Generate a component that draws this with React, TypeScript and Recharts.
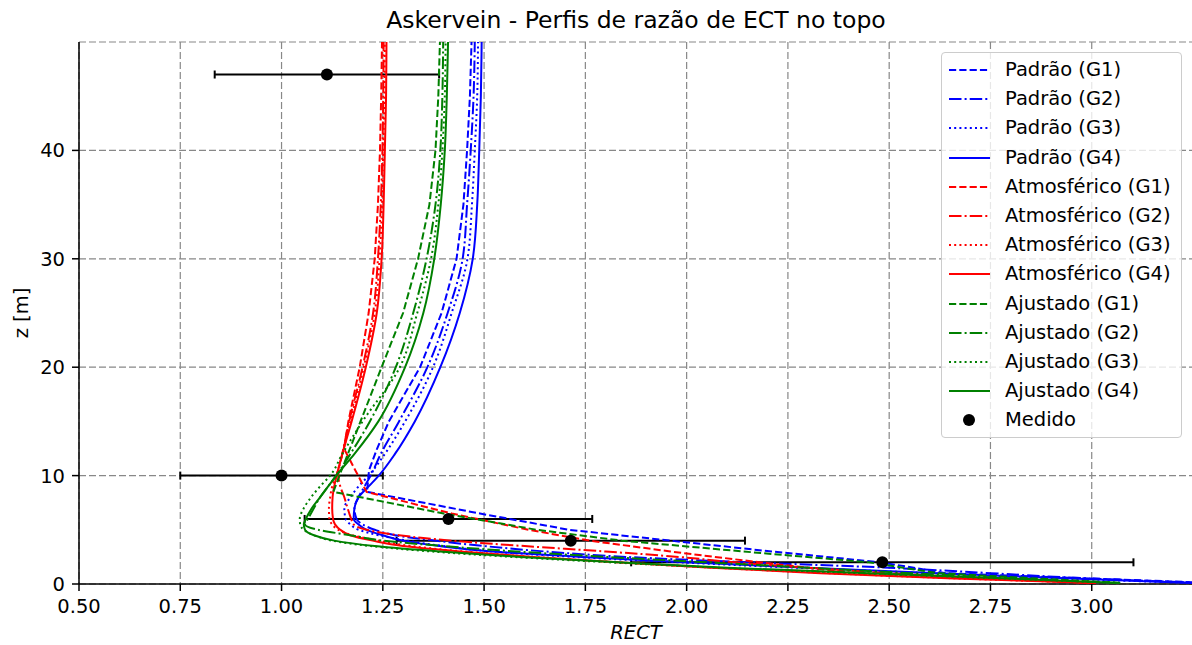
import React from 'react';
import { ScatterChart, Scatter, XAxis, YAxis, CartesianGrid, ErrorBar } from 'recharts';

const FONT = '"DejaVu Sans", Verdana, sans-serif';

// profile heights [m]: coarse grid (G1) and the finer grids (G2-G4)
const Z_G1 = [0.1, 1, 2, 3, 4, 5, 6.5, 8.5, 10.5, 12.5, 15, 20, 25, 30, 35, 40, 45, 50];
const Z_FINE = [0.1, 0.5, 1, 1.5, 2, 2.5, 3, 3.5, 4, 4.5, 5, 5.5, 6, 7, 8, 9, 10, 12, 15, 20, 25, 30, 35, 40, 45, 50];

// RECT along each profile
const PADRAO_G1 = [3.3, 2.64, 2.48, 2.21, 1.96, 1.71, 1.49, 1.211, 1.216, 1.236, 1.265, 1.342, 1.395, 1.432, 1.449, 1.458, 1.465, 1.469];
const PADRAO_G2 = [3.28, 3.0, 2.75, 2.5, 2.15, 1.85, 1.65, 1.5, 1.38, 1.28, 1.23, 1.2, 1.185, 1.18, 1.19, 1.205, 1.22, 1.245, 1.29, 1.36, 1.41, 1.447, 1.458, 1.467, 1.474, 1.477];
const PADRAO_G3 = [3.25, 2.93, 2.6, 2.27, 1.98, 1.72, 1.52, 1.4, 1.31, 1.24, 1.19, 1.17, 1.158, 1.155, 1.17, 1.19, 1.215, 1.255, 1.305, 1.374, 1.42, 1.459, 1.47, 1.477, 1.483, 1.485];
const PADRAO_G4 = [3.25, 2.95, 2.62, 2.3, 2.0, 1.74, 1.52, 1.39, 1.3, 1.25, 1.21, 1.19, 1.178, 1.18, 1.19, 1.215, 1.24, 1.28, 1.329, 1.392, 1.44, 1.472, 1.483, 1.488, 1.492, 1.494];

const ATMOS_G1 = [3.0, 2.42, 2.18, 1.96, 1.76, 1.61, 1.42, 1.21, 1.182, 1.154, 1.165, 1.193, 1.215, 1.23, 1.238, 1.243, 1.246, 1.248];
const ATMOS_G2 = [3.0, 2.75, 2.5, 2.3, 2.12, 1.98, 1.8, 1.6, 1.42, 1.29, 1.21, 1.178, 1.172, 1.163, 1.155, 1.145, 1.14, 1.15, 1.167, 1.2, 1.226, 1.238, 1.245, 1.249, 1.251, 1.252];
const ATMOS_G3 = [3.01, 2.68, 2.35, 2.07, 1.83, 1.62, 1.45, 1.32, 1.24, 1.175, 1.14, 1.125, 1.118, 1.117, 1.12, 1.125, 1.135, 1.15, 1.17, 1.203, 1.23, 1.242, 1.248, 1.251, 1.254, 1.255];
const ATMOS_G4 = [3.01, 2.66, 2.33, 2.06, 1.83, 1.62, 1.44, 1.3, 1.225, 1.169, 1.145, 1.132, 1.127, 1.125, 1.126, 1.13, 1.136, 1.15, 1.173, 1.208, 1.235, 1.247, 1.252, 1.255, 1.258, 1.259];

const AJUST_G1 = [3.07, 2.62, 2.45, 2.14, 1.84, 1.63, 1.4, 1.128, 1.148, 1.169, 1.195, 1.247, 1.3, 1.337, 1.365, 1.38, 1.387, 1.391];
const AJUST_G2 = [3.07, 2.82, 2.55, 2.3, 2.05, 1.8, 1.58, 1.4, 1.25, 1.17, 1.09, 1.058, 1.065, 1.08, 1.095, 1.115, 1.135, 1.17, 1.218, 1.282, 1.325, 1.358, 1.38, 1.392, 1.397, 1.399];
const AJUST_G3 = [3.07, 2.78, 2.43, 2.08, 1.81, 1.57, 1.37, 1.22, 1.125, 1.08, 1.055, 1.046, 1.045, 1.055, 1.073, 1.095, 1.12, 1.15, 1.2, 1.292, 1.335, 1.369, 1.387, 1.397, 1.403, 1.405];
const AJUST_G4 = [3.07, 2.8, 2.45, 2.1, 1.83, 1.59, 1.39, 1.23, 1.13, 1.08, 1.058, 1.055, 1.06, 1.075, 1.095, 1.115, 1.135, 1.18, 1.239, 1.305, 1.35, 1.377, 1.393, 1.403, 1.408, 1.411];

// measurements with their uncertainty on RECT
const MEDIDO_Z = [2, 4, 6, 10, 47];
const MEDIDO_X = [2.483, 1.714, 1.412, 1.0, 1.112];
const MEDIDO_ERR = [0.62, 0.43, 0.355, 0.25, 0.277];

const X_TICKS = [0.5, 0.75, 1.0, 1.25, 1.5, 1.75, 2.0, 2.25, 2.5, 2.75, 3.0];
const Y_TICKS = [0, 10, 20, 30, 40];

const DASHED = '7.2 3.1';
const DASHDOT = '12.5 3.1 2 3.1';
const DOTTED = '2 3.2';

const BLUE = '#0000ff';
const RED = '#ff0000';
const GREEN = '#008000';

const toPoints = (zs: number[], xs: number[]) => zs.map((z, i) => ({ x: xs[i], z }));

const SERIES = [
  { name: 'Padrão (G1)', color: BLUE, dash: DASHED, pts: toPoints(Z_G1, PADRAO_G1), joint: 'linear' },
  { name: 'Padrão (G2)', color: BLUE, dash: DASHDOT, pts: toPoints(Z_FINE, PADRAO_G2), joint: 'monotoneY' },
  { name: 'Padrão (G3)', color: BLUE, dash: DOTTED, pts: toPoints(Z_FINE, PADRAO_G3), joint: 'monotoneY' },
  { name: 'Padrão (G4)', color: BLUE, dash: undefined, pts: toPoints(Z_FINE, PADRAO_G4), joint: 'monotoneY' },
  { name: 'Atmosférico (G1)', color: RED, dash: DASHED, pts: toPoints(Z_G1, ATMOS_G1), joint: 'linear' },
  { name: 'Atmosférico (G2)', color: RED, dash: DASHDOT, pts: toPoints(Z_FINE, ATMOS_G2), joint: 'monotoneY' },
  { name: 'Atmosférico (G3)', color: RED, dash: DOTTED, pts: toPoints(Z_FINE, ATMOS_G3), joint: 'monotoneY' },
  { name: 'Atmosférico (G4)', color: RED, dash: undefined, pts: toPoints(Z_FINE, ATMOS_G4), joint: 'monotoneY' },
  { name: 'Ajustado (G1)', color: GREEN, dash: DASHED, pts: toPoints(Z_G1, AJUST_G1), joint: 'linear' },
  { name: 'Ajustado (G2)', color: GREEN, dash: DASHDOT, pts: toPoints(Z_FINE, AJUST_G2), joint: 'monotoneY' },
  { name: 'Ajustado (G3)', color: GREEN, dash: DOTTED, pts: toPoints(Z_FINE, AJUST_G3), joint: 'monotoneY' },
  { name: 'Ajustado (G4)', color: GREEN, dash: undefined, pts: toPoints(Z_FINE, AJUST_G4), joint: 'monotoneY' },
];

const medido = MEDIDO_Z.map((z, i) => ({ x: MEDIDO_X[i], z, err: MEDIDO_ERR[i] }));

const noDot = () => <g />;
const blackDot = (p: any) => <circle cx={p.cx} cy={p.cy} r={6} fill="#000" />;

const tickStyle = { fill: '#000', fontSize: 19.5, fontFamily: FONT };

const Legend = () => (
  <div
    style={{
      position: 'absolute',
      left: 941,
      top: 52,
      width: 241,
      height: 386,
      boxSizing: 'border-box',
      border: '1px solid #cccccc',
      borderRadius: 4,
      background: 'rgba(255,255,255,0.8)',
      fontFamily: FONT,
      fontSize: 19.5,
    }}
  >
    {[...SERIES.map((s) => ({ name: s.name, color: s.color, dash: s.dash, dot: false })), { name: 'Medido', color: '#000', dash: undefined, dot: true }].map(
      (row, i) => {
        const cy = 17 + i * 29.2;
        return (
          <div key={row.name} style={{ position: 'absolute', left: 0, top: cy - 15, height: 30, width: 240 }}>
            <svg width={50} height={30} style={{ position: 'absolute', left: 6, top: 0 }}>
              {row.dot ? (
                <circle cx={21} cy={15} r={6} fill="#000" />
              ) : (
                <line x1={1} y1={15} x2={42} y2={15} stroke={row.color} strokeWidth={2} strokeDasharray={row.dash} />
              )}
            </svg>
            <span style={{ position: 'absolute', left: 63, top: 15, transform: 'translateY(-50%)', lineHeight: 1, whiteSpace: 'nowrap' }}>
              {row.name}
            </span>
          </div>
        );
      }
    )}
  </div>
);

export default function App() {
  return (
    <div style={{ position: 'absolute', left: 0, top: 0, width: 1192, height: 645, overflow: 'hidden', background: '#fff' }}>
      <ScatterChart width={1200} height={645} margin={{ top: 42, right: 7, bottom: 11, left: 9 }}>
        <CartesianGrid stroke="#888888" strokeWidth={1.2} strokeDasharray="7 3" />
        <XAxis
          type="number"
          dataKey="x"
          domain={[0.5, 3.25]}
          ticks={X_TICKS}
          tickFormatter={(v: number) => v.toFixed(2)}
          allowDataOverflow
          height={50}
          tickSize={7}
          tickMargin={8}
          tick={tickStyle}
          axisLine={{ stroke: '#000', strokeWidth: 1.5 }}
          tickLine={{ stroke: '#000', strokeWidth: 1.5 }}
        />
        <XAxis
          xAxisId="top"
          orientation="top"
          type="number"
          dataKey="x"
          domain={[0.5, 3.25]}
          allowDataOverflow
          height={0}
          tick={false}
          tickLine={false}
          axisLine={{ stroke: '#000', strokeWidth: 1.5 }}
        />
        <YAxis
          type="number"
          dataKey="z"
          domain={[0, 50]}
          ticks={Y_TICKS}
          allowDataOverflow
          width={70}
          tickSize={7}
          tickMargin={7}
          tick={tickStyle}
          axisLine={{ stroke: '#000', strokeWidth: 1.5 }}
          tickLine={{ stroke: '#000', strokeWidth: 1.5 }}
        />
        {SERIES.map((s) => (
          <Scatter
            key={s.name}
            name={s.name}
            data={s.pts}
            fill={s.color}
            shape={noDot}
            line={{ stroke: s.color, strokeWidth: 2, strokeDasharray: s.dash }}
            lineJointType={s.joint as any}
            isAnimationActive={false}
          />
        ))}
        <Scatter name="Medido" data={medido} fill="#000" shape={blackDot} isAnimationActive={false}>
          <ErrorBar dataKey="err" direction="x" width={4} stroke="#000" strokeWidth={2} />
        </Scatter>
      </ScatterChart>

      <div
        style={{
          position: 'absolute',
          left: 636,
          top: 21,
          transform: 'translate(-50%, -50%)',
          fontFamily: FONT,
          fontSize: 23.5,
          lineHeight: 1,
          whiteSpace: 'nowrap',
        }}
      >
        Askervein - Perfis de razão de ECT no topo
      </div>
      <div
        style={{
          position: 'absolute',
          left: 22,
          top: 313,
          transform: 'translate(-50%, -50%) rotate(-90deg)',
          fontFamily: FONT,
          fontSize: 19.5,
          lineHeight: 1,
          whiteSpace: 'nowrap',
        }}
      >
        z [m]
      </div>
      <div
        style={{
          position: 'absolute',
          left: 636,
          top: 633,
          transform: 'translate(-50%, -50%)',
          fontFamily: FONT,
          fontSize: 19.5,
          fontStyle: 'italic',
          lineHeight: 1,
          whiteSpace: 'nowrap',
        }}
      >
        RECT
      </div>
      <Legend />
    </div>
  );
}
